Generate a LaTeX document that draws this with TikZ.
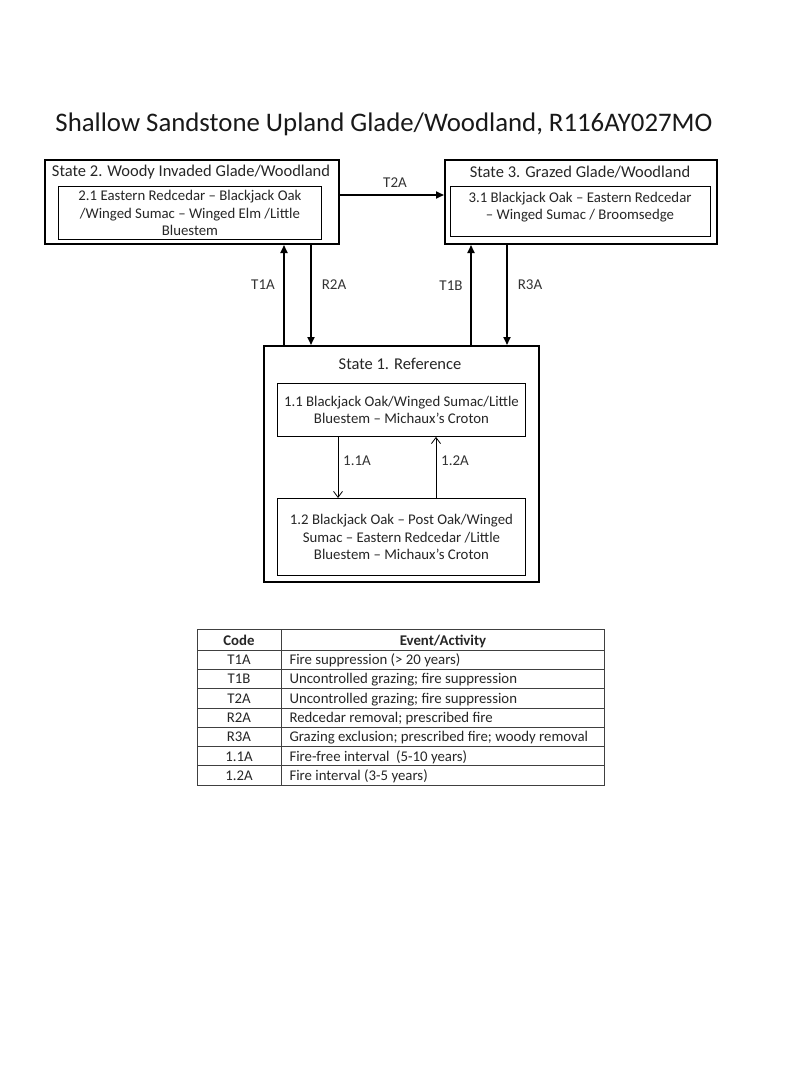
\documentclass[tikz,border=0pt]{standalone}
\usepackage{fontspec}
\setmainfont{Carlito}
\usetikzlibrary{arrows.meta}
\tikzset{
  outerbox/.style={draw=black, line width=2pt, anchor=north west, inner sep=0pt},
  innerbox/.style={draw=black, line width=0.9pt, anchor=north west, inner sep=0pt},
  boxtext/.style={align=center, font=\fontsize{14.8}{17.5}\selectfont, text=black!85},
  statetitle/.style={font=\fontsize{16.5}{19}\selectfont, text=black!85},
  biglink/.style={line width=1.8pt, -{Triangle[length=8pt,width=7pt]}},
  smalllink/.style={line width=0.8pt, -{Straight Barb[length=6pt,width=9pt]}},
  lbl/.style={font=\fontsize{15}{17}\selectfont, text=black!80},
  tab/.style={font=\fontsize{14.8}{16}\selectfont, text=black!85, anchor=base},
  tabline/.style={draw=black!75, line width=0.8pt}
}
\begin{document}
\begin{tikzpicture}[x=1pt,y=-1pt]
\useasboundingbox[fill=white] (0,0) rectangle (800,1067);
% title
\node[font=\fontsize{26.8}{30}\selectfont, text=black!90, anchor=base] (title) at (384,132) {Shallow Sandstone Upland Glade/Woodland, R116AY027MO};
% State 2
\node[outerbox, minimum width=294pt, minimum height=84pt] (s2) at (44,159) {};
\node[statetitle] (s2t) at (191,172) {State 2. Woody Invaded Glade/Woodland};
\node[innerbox, minimum width=263pt, minimum height=53pt] (s21) at (58,186) {};
\node[boxtext] (s21t) at (s21.center) {2.1 Eastern Redcedar -- Blackjack Oak\\/Winged Sumac -- Winged Elm /Little\\Bluestem};
% State 3
\node[outerbox, minimum width=272pt, minimum height=84pt] (s3) at (444,159) {};
\node[statetitle] (s3t) at (580,172) {State 3. Grazed Glade/Woodland};
\node[innerbox, minimum width=260pt, minimum height=50pt] (s31) at (450,186) {};
\node[boxtext] (s31t) at (580,207) {3.1 Blackjack Oak -- Eastern Redcedar\\-- Winged Sumac / Broomsedge};
% State 1
\node[outerbox, minimum width=275pt, minimum height=236pt] (s1) at (263,345) {};
\node[statetitle] (s1t) at (400,364) {State 1. Reference};
\node[innerbox, minimum width=248pt, minimum height=53pt] (s11) at (277,383) {};
\node[boxtext] (s11t) at (s11.center) {1.1 Blackjack Oak/Winged Sumac/Little\\Bluestem -- Michaux's Croton};
\node[innerbox, minimum width=248pt, minimum height=77pt] (s12) at (277,498) {};
\node[boxtext] (s12t) at (s12.center) {1.2 Blackjack Oak -- Post Oak/Winged\\Sumac -- Eastern Redcedar /Little\\Bluestem -- Michaux's Croton};
% coordinates for vertical links
\coordinate (xT1A) at (284,0);
\coordinate (xR2A) at (311,0);
\coordinate (xT1B) at (471,0);
\coordinate (xR3A) at (507,0);
\coordinate (yT2A) at (0,195);
\coordinate (x11A) at (338,0);
\coordinate (x12A) at (436,0);
% big links
\draw[biglink] (s2.east |- yT2A) -- (s3.west |- yT2A);
\draw[biglink] (s1.north -| xT1A) -- (s2.south -| xT1A);
\draw[biglink] (s2.south -| xR2A) -- (s1.north -| xR2A);
\draw[biglink] (s1.north -| xT1B) -- (s3.south -| xT1B);
\draw[biglink] (s3.south -| xR3A) -- (s1.north -| xR3A);
\node[lbl] (lT2A) at (395,183) {T2A};
\node[lbl] (lT1A) at (263,285) {T1A};
\node[lbl] (lR2A) at (334,285) {R2A};
\node[lbl] (lT1B) at (451,286) {T1B};
\node[lbl] (lR3A) at (530,285) {R3A};
% small links
\draw[smalllink] (s11.south -| x11A) -- (s12.north -| x11A);
\draw[smalllink] (s12.north -| x12A) -- (s11.south -| x12A);
\node[lbl] (l11A) at (357,461) {1.1A};
\node[lbl] (l12A) at (455,461) {1.2A};
% table
\draw[tabline] (197,629) rectangle (604,785);
\draw[tabline] (281,629) -- (281,785);
\draw[tabline] (197,650) -- (604,650);
\foreach \i in {1,...,6} {
  \draw[tabline] (197,{650+\i*19.3}) -- (604,{650+\i*19.3});
}
\node[tab, font=\bfseries\fontsize{14.8}{16}\selectfont] (hcode) at (239,645) {Code};
\node[tab, font=\bfseries\fontsize{14.8}{16}\selectfont] (hevent) at (443,645) {Event/Activity};
\foreach \c/\t [count=\k] in {T1A/{Fire suppression (> 20 years)},T1B/{Uncontrolled grazing; fire suppression},T2A/{Uncontrolled grazing; fire suppression},R2A/{Redcedar removal; prescribed fire},R3A/{Grazing exclusion; prescribed fire; woody removal},1.1A/{Fire-free interval~~(5-10 years)},1.2A/{Fire interval (3-5 years)}} {
  \node[tab] (code\k) at (239,{650+(\k-0.5)*19.3+5}) {\c};
  \node[tab, anchor=base west] (ev\k) at (286,{650+(\k-0.5)*19.3+5}) {\t};
}
\end{tikzpicture}
\end{document}
